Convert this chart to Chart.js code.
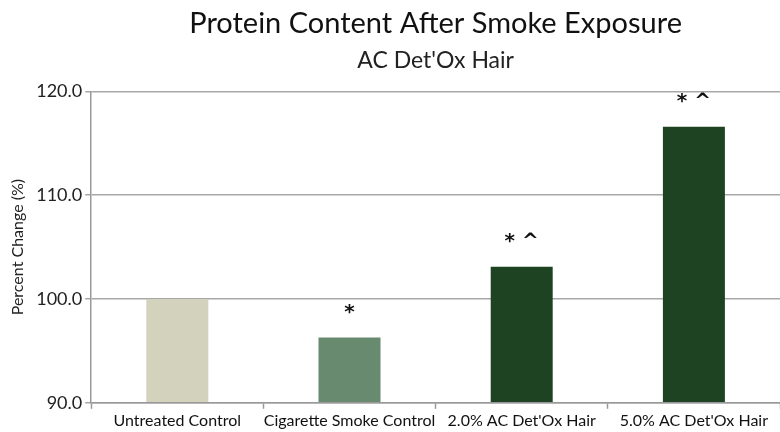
<!DOCTYPE html>
<html>
<head>
<meta charset="utf-8">
<script src="https://cdn.jsdelivr.net/npm/chart.js@4.4.0/dist/chart.umd.min.js"></script>
<style>
  html, body { margin: 0; padding: 0; background: #fff; }
  #wrap { width: 780px; height: 432px; }
</style>
</head>
<body>
<div id="wrap"><canvas id="chart" width="780" height="432"></canvas></div>
<script>
// Chart data
const categories = ["Untreated Control", "Cigarette Smoke Control", "2.0% AC Det'Ox Hair", "5.0% AC Det'Ox Hair"]
const percentChange = [100.0, 96.3, 103.1, 116.6]
const marks = ["", "*", "* ^", "* ^"]
const barColors = ["#d2d2bd", "#688a6e", "#1e4322", "#1e4322"]
const yTicks = [90, 100, 110, 120]

const fontFamily = "Lato, 'Open Sans', sans-serif"

// write the significance marks above each bar
const marksPlugin = {
    id: 'marks',
    afterDatasetsDraw(chart) {
        const ctx = chart.ctx
        const meta = chart.getDatasetMeta(0)
        ctx.save()
        ctx.fillStyle = "#111"
        ctx.font = "bold 20px 'DejaVu Sans', sans-serif"
        ctx.textAlign = "center"
        ctx.textBaseline = "middle"
        meta.data.forEach((bar, i) => {
            if (marks[i]) ctx.fillText(marks[i], bar.x, bar.y - 25)
        })
        ctx.restore()
    }
}

const ctx = document.getElementById('chart')
new Chart(ctx, {
    type: 'bar',
    data: {
        labels: categories,
        datasets: [{
            data: percentChange,
            backgroundColor: barColors,
            borderWidth: 0,
            barPercentage: 0.36,
            categoryPercentage: 1.0,
            base: 90
        }]
    },
    options: {
        responsive: false,
        animation: false,
        layout: { padding: { left: 8, right: 0, top: 0, bottom: 0 } },
        plugins: {
            legend: { display: false },
            tooltip: { enabled: false },
            title: {
                display: true,
                text: "Protein Content After Smoke Exposure",
                color: "#111",
                font: { family: fontFamily, size: 29, weight: 'normal' },
                fullSize: false,
                padding: { top: 6, bottom: 0 }
            },
            subtitle: {
                display: true,
                text: "AC Det'Ox Hair",
                color: "#222",
                font: { family: fontFamily, size: 23, weight: 'normal' },
                fullSize: false,
                padding: { top: 6, bottom: 17 }
            }
        },
        scales: {
            x: {
                grid: {
                    display: true,
                    offset: true,
                    drawOnChartArea: false,
                    color: "#999",
                    tickLength: 6,
                    tickWidth: 1.5
                },
                border: { color: "#999", width: 1.5 },
                ticks: {
                    color: "#111",
                    font: { family: fontFamily, size: 16 },
                    maxRotation: 0,
                    autoSkip: false,
                    padding: 2
                }
            },
            y: {
                min: 90,
                max: 120,
                afterBuildTicks(axis) {
                    axis.ticks = yTicks.map(v => ({ value: v }))
                },
                grid: {
                    color: "#a8a8a8",
                    lineWidth: 1.5,
                    tickLength: 6
                },
                border: { color: "#999", width: 1.5 },
                ticks: {
                    color: "#222",
                    font: { family: fontFamily, size: 18 },
                    padding: 3,
                    callback: v => v.toFixed(1)
                },
                title: {
                    display: true,
                    text: "Percent Change (%)",
                    color: "#222",
                    font: { family: fontFamily, size: 16 },
                    padding: { top: 0, bottom: 6 }
                }
            }
        }
    },
    plugins: [marksPlugin]
})
</script>
</body>
</html>
